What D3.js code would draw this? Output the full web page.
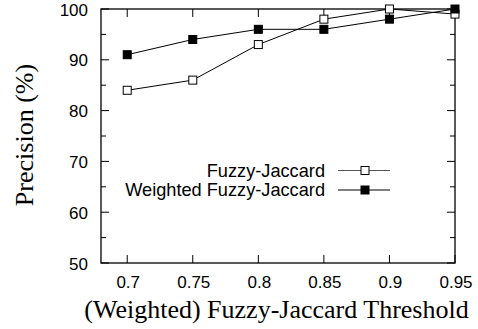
<!DOCTYPE html>
<html>
<head>
<meta charset="utf-8">
<script src="https://cdn.jsdelivr.net/npm/d3@7"></script>
<style>
  html, body { margin: 0; padding: 0; background: #fff; }
  svg { display: block; }
</style>
</head>
<body>
<svg id="chart" width="478" height="329"></svg>
<script>
// Thresholds on the x axis
const thresholds = [0.7, 0.75, 0.8, 0.85, 0.9, 0.95];
// Precision (%) for each method
const fuzzyJaccard = [84, 86, 93, 98, 100, 99];
const weightedFuzzyJaccard = [91, 94, 96, 96, 98, 100];
// Tick values
const xTicks = [0.7, 0.75, 0.8, 0.85, 0.9, 0.95];
const yTicks = [50, 60, 70, 80, 90, 100];
const yMinorTicks = [55, 65, 75, 85, 95];
const seriesNames = ["Fuzzy-Jaccard", "Weighted Fuzzy-Jaccard"];

const svg = d3.select("#chart");
const plotLeft = 101, plotRight = 455, plotTop = 9, plotBottom = 263;

const x = d3.scaleLinear().domain([0.68, 0.95]).range([plotLeft, plotRight]);
const y = d3.scaleLinear().domain([50, 100]).range([plotBottom, plotTop]);

const sans = "'Liberation Sans', Arial, sans-serif";
const serif = "'Liberation Serif', 'Times New Roman', serif";
const tickSize = 17;
const legendSize = 18.2;
const serifSize = 26;

// Frame
svg.append("rect")
  .attr("x", plotLeft).attr("y", plotTop)
  .attr("width", plotRight - plotLeft).attr("height", plotBottom - plotTop)
  .attr("fill", "none").attr("stroke", "#000").attr("stroke-width", 1.3);

// Inward ticks on all four sides
const tickG = svg.append("g").attr("stroke", "#000").attr("stroke-width", 1);
xTicks.forEach(v => {
  const px = x(v);
  tickG.append("line").attr("x1", px).attr("x2", px).attr("y1", plotBottom).attr("y2", plotBottom - 8);
  tickG.append("line").attr("x1", px).attr("x2", px).attr("y1", plotTop).attr("y2", plotTop + 8);
});
yTicks.forEach(v => {
  const py = y(v);
  tickG.append("line").attr("x1", plotLeft).attr("x2", plotLeft + 8).attr("y1", py).attr("y2", py);
  tickG.append("line").attr("x1", plotRight).attr("x2", plotRight - 8).attr("y1", py).attr("y2", py);
});
yMinorTicks.forEach(v => {
  const py = y(v);
  tickG.append("line").attr("x1", plotLeft).attr("x2", plotLeft + 5).attr("y1", py).attr("y2", py);
  tickG.append("line").attr("x1", plotRight).attr("x2", plotRight - 5).attr("y1", py).attr("y2", py);
});

// Tick labels
svg.append("g").selectAll("text").data(xTicks).join("text")
  .attr("x", d => x(d) + 1).attr("y", 288)
  .attr("text-anchor", "middle")
  .attr("font-family", sans).attr("font-size", tickSize)
  .text(d => d);
svg.append("g").selectAll("text").data(yTicks).join("text")
  .attr("x", 88).attr("y", d => y(d) + 6.5)
  .attr("text-anchor", "end")
  .attr("font-family", sans).attr("font-size", tickSize)
  .text(d => d);

// Axis titles
svg.append("text")
  .attr("x", 276.5).attr("y", 318)
  .attr("text-anchor", "middle")
  .attr("font-family", serif).attr("font-size", serifSize)
  .text("(Weighted) Fuzzy-Jaccard Threshold");
svg.append("text")
  .attr("transform", "translate(33,135) rotate(-90)")
  .attr("text-anchor", "middle")
  .attr("font-family", serif).attr("font-size", serifSize)
  .text("Precision (%)");

// Series
const line = d3.line().x((d, i) => x(thresholds[i])).y(d => y(d));
const ms = 8;
const series = [
  { name: seriesNames[0], values: fuzzyJaccard, fill: "#fff" },
  { name: seriesNames[1], values: weightedFuzzyJaccard, fill: "#000" }
];

series.forEach(s => {
  svg.append("path")
    .attr("d", line(s.values))
    .attr("fill", "none").attr("stroke", "#000").attr("stroke-width", 1);
  svg.append("g").selectAll("rect").data(s.values).join("rect")
    .attr("x", (d, i) => x(thresholds[i]) - ms / 2)
    .attr("y", d => y(d) - ms / 2)
    .attr("width", ms).attr("height", ms)
    .attr("fill", s.fill).attr("stroke", "#000").attr("stroke-width", 1);
});

// Legend
const legendRows = [170.5, 190];
series.forEach((s, i) => {
  const ly = legendRows[i];
  svg.append("text")
    .attr("x", 325).attr("y", ly + 6)
    .attr("text-anchor", "end")
    .attr("font-family", sans).attr("font-size", legendSize)
    .text(s.name);
  svg.append("line")
    .attr("x1", 338).attr("x2", 390).attr("y1", ly).attr("y2", ly)
    .attr("stroke", i === 0 ? "#555" : "#000").attr("stroke-width", 1);
  svg.append("rect")
    .attr("x", 365 - ms / 2).attr("y", ly - ms / 2)
    .attr("width", ms).attr("height", ms)
    .attr("fill", s.fill).attr("stroke", "#000").attr("stroke-width", 1);
});
</script>
</body>
</html>
